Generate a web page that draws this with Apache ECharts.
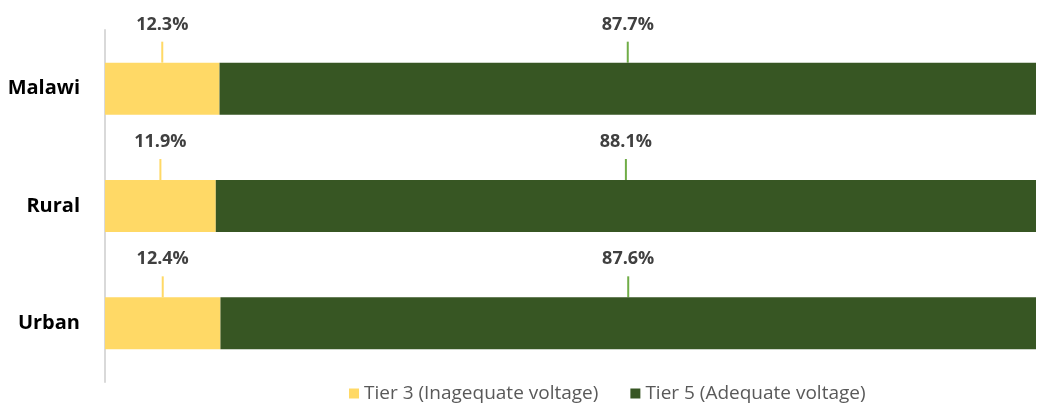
<!DOCTYPE html>
<html lang="en">
<head>
    <meta charset="UTF-8">
    <title>Voltage tiers</title>
    <script src="https://cdn.jsdelivr.net/npm/echarts@6/dist/echarts.min.js"></script>
    <style>
        html, body { margin: 0; padding: 0; background: #fff; }
        #chart { width: 1037px; height: 404px; }
    </style>
</head>
<body>
<div id="chart"></div>
<script>
    var categories = ['Malawi', 'Rural', 'Urban'];
    var tier3 = [12.3, 11.9, 12.4];
    var tier5 = [87.7, 88.1, 87.6];
    var seriesNames = ['Tier 3 (Inagequate voltage)', 'Tier 5 (Adequate voltage)'];

    var font = '"Open Sans", Lato, sans-serif';

    function barSeries(name, values, color, lineColor) {
        return {
            name: name,
            type: 'bar',
            stack: 'total',
            barWidth: 52,
            data: values,
            itemStyle: { color: color },
            label: {
                show: true,
                position: 'top',
                distance: 0,
                // blank second line leaves a gap between the value and its leader line
                formatter: function (p) { return '{v|' + p.value.toFixed(1) + '%}\n{s| }'; },
                rich: {
                    v: {
                        fontFamily: font,
                        fontWeight: 'bold',
                        fontSize: 18,
                        lineHeight: 20,
                        color: '#404040'
                    },
                    s: { fontSize: 6, lineHeight: 8 }
                }
            },
            labelLayout: { dy: -20 },
            labelLine: {
                show: true,
                lineStyle: { color: lineColor, width: 2 }
            },
            emphasis: { disabled: true }
        };
    }

    var chart = echarts.init(document.getElementById('chart'));
    chart.setOption({
        animation: false,
        grid: { left: 105, right: 1, top: 30, bottom: 22, containLabel: false },
        legend: {
            bottom: -4,
            left: 344,
            itemWidth: 10,
            itemHeight: 10,
            itemGap: 32,
            icon: 'rect',
            textStyle: { fontFamily: font, fontSize: 19, color: '#595959' },
            data: seriesNames
        },
        xAxis: {
            type: 'value',
            min: 0,
            max: 100,
            show: false
        },
        yAxis: {
            type: 'category',
            data: categories,
            inverse: true,
            axisTick: { show: false },
            axisLine: { lineStyle: { color: '#d9d9d9', width: 2 } },
            axisLabel: {
                fontFamily: font,
                fontWeight: 'bold',
                fontSize: 20,
                color: '#000',
                margin: 25
            }
        },
        series: [
            barSeries(seriesNames[0], tier3, '#FFD966', '#FFD966'),
            barSeries(seriesNames[1], tier5, '#375623', '#70AD47')
        ]
    });
</script>
</body>
</html>
